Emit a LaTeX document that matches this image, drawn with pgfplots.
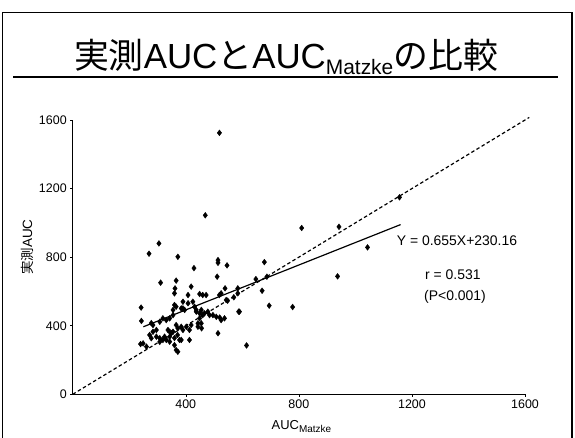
\documentclass[border=0pt]{standalone}
\usepackage{fontspec}
\setmainfont{Liberation Sans}
\newfontfamily\cjk{Noto Sans CJK JP}
\usepackage{pgfplots}
\pgfplotsset{compat=1.18}
\begin{document}
\begin{tikzpicture}
\useasboundingbox (0,0) rectangle (575bp,438bp);
\fill[white] (0,0) rectangle (575bp,438bp);
% slide frame
\draw[line width=1.4bp] (2.7bp,-3bp) -- (2.7bp,425.3bp) -- (572bp,425.3bp) -- (572bp,-3bp);
% title
\node[anchor=base, inner sep=0pt] at (286bp,369bp) {\fontsize{35}{40}\selectfont{\cjk 実測}AUC{\cjk と}AUC\raisebox{-6bp}{\fontsize{21}{22}\selectfont Matzke}{\cjk の比較}};
\draw[line width=2.6bp] (13bp,361bp) -- (558bp,361bp);
\begin{axis}[
  at={(72.7bp,43.7bp)}, anchor=south west,
  scale only axis, width=452.3bp, height=274.3bp,
  xmin=0, xmax=1600, ymin=0, ymax=1600,
  axis lines=left,
  axis line style={-, line width=0.7pt, black},
  xtick={400,800,1200,1600}, ytick={0,400,800,1200,1600},
  tick align=outside, major tick length=2.5pt,
  tick style={black, line width=0.5pt},
  tick label style={font=\fontsize{12.5}{14}\selectfont},
  xticklabel style={yshift=1pt},
  /pgf/number format/assume math mode=true,
  /pgf/number format/1000 sep={},
  clip=false,
]
\addplot[only marks, mark=diamond*, mark size=2.9pt, black] coordinates {
(519,1525) (469,1044) (810,970) (270,820) (305,880) (372,802) (429,736)
(514,783) (514,767) (546,752) (678,771) (942,977) (1156,1149) (1043,857)
(937,688) (778,509) (511,686) (539,618) (648,672) (687,686) (670,604)
(548,546) (570,566) (587,482) (695,517) (514,356) (615,285) (456,385)
(460,579) (472,579) (519,579) (525,589) (311,651) (366,663) (362,618)
(360,589) (419,628) (408,579) (449,585) (584,618) (584,589) (543,550)
(242,506) (243,428) (240,293) (360,521) (366,511) (390,540) (425,540)
(408,531) (390,501) (355,492) (384,501) (396,492) (355,462) (343,443)
(331,433) (319,443) (308,423) (431,511) (437,492) (437,482) (455,492)
(449,472) (466,472) (460,462) (478,482) (484,462) (496,462) (508,452)
(520,448) (525,433) (537,443) (449,443) (443,414) (455,414) (419,404)
(402,394) (443,394) (384,394) (366,404) (390,375) (413,375) (372,385)
(278,415) (284,404) (296,375) (284,365) (272,346) (278,327) (296,336)
(308,327) (319,317) (308,306) (325,336) (337,375) (349,356) (343,336)
(343,365) (355,365) (371,346) (360,328) (331,317) (343,307) (378,317)
(384,317) (413,317) (249,297) (261,278) (360,287) (366,258) (372,248)
(590,482)
};
\addplot[black, line width=1.2pt, dash pattern=on 3.5pt off 2.5pt] coordinates {(0,0) (1615,1615)};
\addplot[black, line width=1.2pt] coordinates {(250,393.9) (1160,990.0)};
\end{axis}
% axis labels
\node[anchor=base west, inner sep=0pt] at (271.5bp,9bp) {\fontsize{13}{14}\selectfont AUC\raisebox{-3bp}{\fontsize{10}{10}\selectfont Matzke}};
\node[rotate=90, inner sep=0pt] at (27bp,191bp) {\fontsize{13.5}{15}\selectfont{\cjk 実測}AUC};
% annotations
\node[anchor=west, inner sep=0pt] at (396.7bp,197bp) {\fontsize{14}{16}\selectfont Y = 0.655X+230.16};
\node[anchor=west, inner sep=0pt] at (425bp,163bp) {\fontsize{14}{16}\selectfont r = 0.531};
\node[anchor=west, inner sep=0pt] at (424bp,141bp) {\fontsize{14}{16}\selectfont (P<0.001)};
\end{tikzpicture}
\end{document}
